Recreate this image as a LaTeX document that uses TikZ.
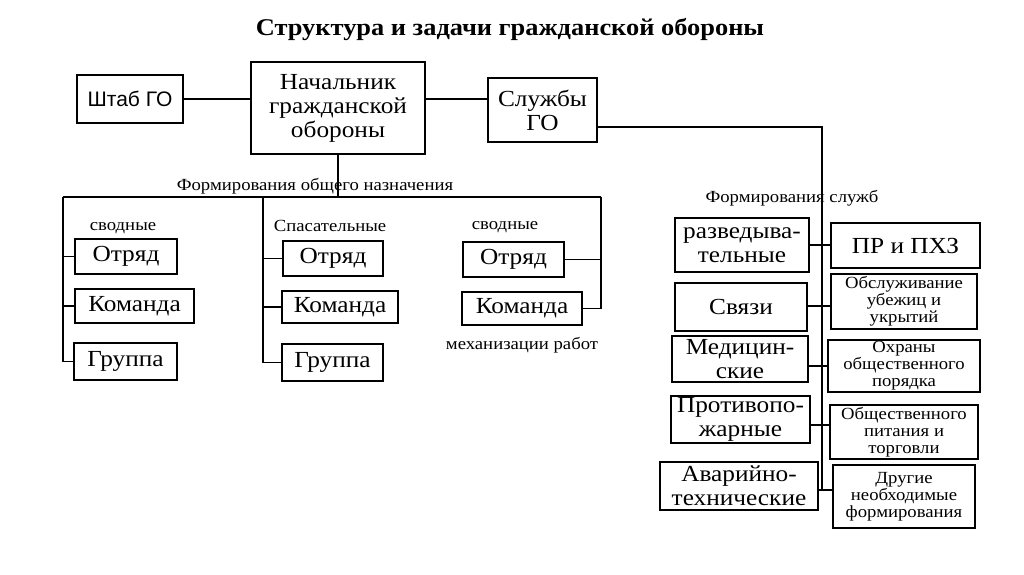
\documentclass[tikz,border=0pt]{standalone}
\usepackage{fontspec}
\setmainfont{Liberation Serif}[FakeStretch=1.1]
\newfontfamily\arialf{Liberation Sans}
\usetikzlibrary{calc}
\newcommand\mkbox[7][]{\node[box,#1,minimum width={#4-#2},minimum height={#5-#3}] (#6) at ({(#2+#4)/2},{(#3+#5)/2}) {#7};}
\begin{document}
\begin{tikzpicture}[x=1pt,y=-1pt,
  box/.style={draw,line width=1.4pt,inner sep=0pt,align=center},
  big/.style={font=\fontsize{23}{24}\selectfont},
  small/.style={font=\fontsize{17}{17}\selectfont},
  lbl/.style={font=\fontsize{17}{19}\selectfont,inner sep=0pt},
  conn/.style={line width=1.3pt}]
\useasboundingbox[fill=white] (0,0) rectangle (1024,574);
\node[font=\fontsize{24}{26}\selectfont\bfseries] (title) at (510,29) {Структура и задачи гражданской обороны};
% top
\mkbox[font=\arialf\fontsize{21}{23}\selectfont]{77}{75}{183}{123}{sht}{Штаб ГО}
\mkbox[big]{251}{62}{425}{154}{nach}{Начальник\\гражданской\\обороны}
\mkbox[big]{488}{78}{597}{142}{sl}{Службы\\ГО}
% general formations
\mkbox[big]{75}{239}{177}{274}{a1}{Отряд}
\mkbox[big]{75}{289}{194}{323}{a2}{Команда}
\mkbox[big]{74}{343}{177}{380}{a3}{Группа}
\mkbox[big]{283}{241}{383}{276}{b1}{Отряд}
\mkbox[big]{282}{291}{398}{323}{b2}{Команда}
\mkbox[big]{282}{344}{383}{381}{b3}{Группа}
\mkbox[big]{463}{242}{564}{277}{c1}{Отряд}
\mkbox[big]{462}{292}{582}{325}{c2}{Команда}
% services
\mkbox[big]{675}{218}{809}{272}{r1}{разведыва-\\тельные}
\mkbox[big]{675}{283}{807}{331}{r2}{Связи}
\mkbox[big]{672}{336}{808}{382}{r3}{Медицин-\\ские}
\mkbox[big]{671}{396}{810}{443}{r4}{Противопо-\\жарные}
\mkbox[big]{660}{462}{818}{510}{r5}{Аварийно-\\технические}
\mkbox[big]{831}{223}{980}{268}{s1}{ПР и ПХЗ}
\mkbox[small]{831}{274}{977}{329}{s2}{Обслуживание\\убежиц и\\укрытий}
\mkbox[small]{828}{340}{980}{392}{s3}{Охраны\\общественного\\порядка}
\mkbox[small]{830}{405}{978}{459}{s4}{Общественного\\питания и\\торговли}
\mkbox[small]{833}{465}{975}{528}{s5}{Другие\\необходимые\\формирования}
% labels
\node[lbl] (l1) at (315,186) {Формирования общего назначения};
\node[lbl] (l2) at (123,228) {сводные};
\node[lbl] (l3) at (330,226) {Спасательные};
\node[lbl] (l4) at (505,227) {сводные};
\node[lbl] (l5) at (522,345) {механизации работ};
\node[lbl] (l6) at (792,198) {Формирования служб};
% connectors top
\draw[conn] (sht.east) -- (sht.east -| nach.west);
\draw[conn] (nach.east |- sht.east) -- (sl.west |- sht.east);
\coordinate (hl) at (63,197);
\coordinate (hm) at (263,197);
\coordinate (hr) at (601,197);
\draw[conn] (nach.south) -- (nach.south |- hl);
\draw[conn] (hl) -- (hr);
\draw[conn] (hl) |- (a3.west);
\draw[conn] (a1.west -| hl) -- (a1.west);
\draw[conn] (a2.west -| hl) -- (a2.west);
\draw[conn] (hm) |- (b3.west);
\draw[conn] (b1.west -| hm) -- (b1.west);
\draw[conn] (b2.west -| hm) -- (b2.west);
\draw[conn] (hr) |- (c2.east);
\draw[conn] (c1.east) -- (c1.east -| hr);
% services connectors
\coordinate (v0) at (822,127);
\coordinate (t1) at (822,245);
\coordinate (t2) at (822,306);
\coordinate (t3) at (822,366);
\coordinate (t4) at (822,425);
\coordinate (t5) at (822,490);
\draw[conn] (sl.east |- v0) -- (v0) -- (t5);
\draw[conn] (r1.east |- t1) -- (s1.west |- t1);
\draw[conn] (r2.east |- t2) -- (s2.west |- t2);
\draw[conn] (r3.east |- t3) -- (s3.west |- t3);
\draw[conn] (r4.east |- t4) -- (s4.west |- t4);
\draw[conn] (r5.east |- t5) -- (s5.west |- t5);
\end{tikzpicture}
\end{document}
